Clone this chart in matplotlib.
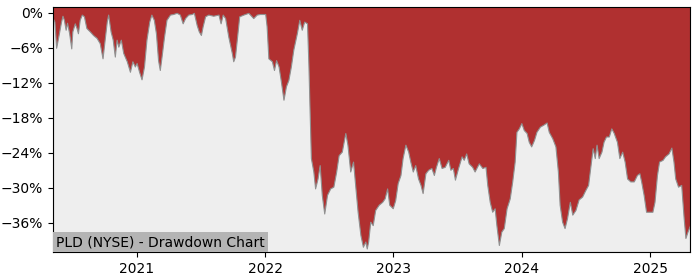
import pandas as pd
import matplotlib
matplotlib.use('Agg')
import matplotlib.pyplot as plt
import matplotlib.dates as mdates
from matplotlib.ticker import FuncFormatter

# drawdown values (%)
dates = [
    '2020-05-07', '2020-05-11', '2020-05-16', '2020-05-22', '2020-05-30', '2020-06-03', '2020-06-07',
    '2020-06-12', '2020-06-16', '2020-06-22', '2020-06-28', '2020-07-01', '2020-07-08', '2020-07-13',
    '2020-07-17', '2020-07-22', '2020-07-28', '2020-08-03', '2020-08-10', '2020-08-20', '2020-08-29',
    '2020-09-08', '2020-09-17', '2020-09-25', '2020-10-02', '2020-10-07', '2020-10-11', '2020-10-18',
    '2020-10-24', '2020-10-30', '2020-11-04', '2020-11-09', '2020-11-16', '2020-11-23', '2020-12-03',
    '2020-12-12', '2020-12-19', '2020-12-26', '2020-12-31',
    '2021-01-07', '2021-01-14', '2021-01-21', '2021-01-28', '2021-02-05', '2021-02-11', '2021-02-18',
    '2021-02-24', '2021-03-02', '2021-03-07', '2021-03-12', '2021-03-19', '2021-03-26', '2021-04-05',
    '2021-04-14', '2021-04-24', '2021-05-03', '2021-05-11', '2021-05-18', '2021-05-27', '2021-06-06',
    '2021-06-12', '2021-06-20', '2021-06-26', '2021-07-02', '2021-07-07', '2021-07-14', '2021-07-23',
    '2021-08-06', '2021-08-21', '2021-08-27', '2021-09-02', '2021-09-09', '2021-09-18', '2021-09-28',
    '2021-10-02', '2021-10-07', '2021-10-14', '2021-10-19', '2021-10-31', '2021-11-14', '2021-11-28',
    '2021-12-08', '2021-12-17', '2022-01-01',
    '2022-01-05', '2022-01-10', '2022-01-20', '2022-01-26', '2022-02-01', '2022-02-08', '2022-02-14',
    '2022-02-22', '2022-03-01', '2022-03-08', '2022-03-15', '2022-03-22', '2022-04-01', '2022-04-08',
    '2022-04-15', '2022-04-22', '2022-04-30', '2022-05-04', '2022-05-07', '2022-05-11', '2022-05-18',
    '2022-05-23', '2022-05-30', '2022-06-05', '2022-06-11', '2022-06-18', '2022-06-26', '2022-07-05',
    '2022-07-14', '2022-07-22', '2022-07-29', '2022-08-07', '2022-08-17', '2022-08-23', '2022-08-31',
    '2022-09-08', '2022-09-14', '2022-09-21', '2022-09-29', '2022-10-06', '2022-10-13', '2022-10-17',
    '2022-10-21', '2022-10-27', '2022-11-03', '2022-11-10', '2022-11-20', '2022-11-30', '2022-12-07',
    '2022-12-14', '2022-12-20', '2022-12-30',
    '2023-01-06', '2023-01-13', '2023-01-21', '2023-01-27', '2023-02-04', '2023-02-12', '2023-02-18',
    '2023-02-25', '2023-03-04', '2023-03-12', '2023-03-19', '2023-03-25', '2023-04-02', '2023-04-10',
    '2023-04-19', '2023-04-26', '2023-05-02', '2023-05-10', '2023-05-18', '2023-05-27', '2023-06-06',
    '2023-06-12', '2023-06-19', '2023-06-25', '2023-07-04', '2023-07-14', '2023-07-20', '2023-07-27',
    '2023-08-03', '2023-08-13', '2023-08-20', '2023-09-01', '2023-09-11', '2023-09-20', '2023-09-25',
    '2023-10-02', '2023-10-09', '2023-10-16', '2023-10-21', '2023-10-28', '2023-11-04', '2023-11-11',
    '2023-11-19', '2023-11-28', '2023-12-05', '2023-12-12', '2023-12-17', '2023-12-24', '2023-12-31',
    '2024-01-07', '2024-01-15', '2024-01-21', '2024-01-28', '2024-02-05', '2024-02-12', '2024-02-22',
    '2024-03-02', '2024-03-12', '2024-03-18', '2024-03-28', '2024-04-06', '2024-04-13', '2024-04-18',
    '2024-04-25', '2024-05-02', '2024-05-09', '2024-05-17', '2024-05-24', '2024-06-02', '2024-06-11',
    '2024-06-21', '2024-06-30', '2024-07-08', '2024-07-15', '2024-07-21', '2024-07-27', '2024-08-01',
    '2024-08-07', '2024-08-15', '2024-08-21', '2024-08-28', '2024-09-05', '2024-09-12', '2024-09-19',
    '2024-09-28', '2024-10-05', '2024-10-13', '2024-10-20', '2024-10-27', '2024-11-05', '2024-11-15',
    '2024-11-24', '2024-12-01', '2024-12-06', '2024-12-13', '2024-12-20', '2024-12-29',
    '2025-01-07', '2025-01-13', '2025-01-20', '2025-01-26', '2025-02-05', '2025-02-12', '2025-02-22',
    '2025-03-02', '2025-03-08', '2025-03-13', '2025-03-21', '2025-03-30', '2025-04-06', '2025-04-11',
    '2025-04-17', '2025-04-24',
]
drawdown = [
    -1.0, -1.5, -6.0, -4.1, -1.5, -0.5, -1.2,
    -2.9, -1.7, -3.5, -6.1, -3.2, -1.8, -2.6,
    -3.5, -1.2, -0.3, -0.6, -2.6, -3.2, -3.8,
    -4.3, -5.2, -7.8, -4.1, -1.5, -0.3, -3.2,
    -4.6, -7.5, -4.6, -5.8, -4.6, -6.9, -8.3,
    -10.1, -8.3, -9.2, -8.6,
    -10.1, -11.4, -9.2, -4.6, -1.5, -0.3, -1.2,
    -3.5, -8.1, -9.8, -7.5, -4.1, -1.2, -0.3,
    -0.2, 0.0, -0.3, -1.8, -0.9, -0.3, -0.2,
    0.0, -2.1, -3.2, -3.8, -2.3, -0.6, -0.3,
    -0.5, -0.3, -1.8, -0.3, -0.9, -4.1, -6.9,
    -8.3, -7.5, -3.5, -0.6, -0.3, 0.0, -0.9,
    -0.3, -0.2, -0.2,
    -2.3, -7.8, -8.3, -9.8, -8.1, -9.2, -11.5,
    -14.9, -12.6, -11.5, -9.2, -6.3, -3.5, -1.2,
    -2.9, -1.5, -1.8, -9.0, -16.0, -24.9, -27.2,
    -30.1, -28.4, -26.1, -31.2, -34.4, -31.2, -30.1,
    -29.8, -27.2, -24.4, -23.8, -20.6, -22.6, -27.2,
    -25.5, -29.5, -34.1, -38.1, -40.1, -39.2, -40.4,
    -39.2, -35.8, -36.4, -33.8, -32.9, -32.4, -31.8,
    -30.1, -32.9, -33.5,
    -32.1, -29.2, -27.8, -24.9, -22.6, -23.8, -25.5,
    -27.2, -26.1, -28.4, -29.5, -30.9, -27.5, -26.9,
    -26.6, -27.8, -26.4, -24.9, -26.6, -26.4, -25.2,
    -26.9, -26.6, -28.6, -26.6, -24.6, -25.2, -24.1,
    -25.8, -26.4, -27.2, -25.8, -26.6, -26.4, -29.5,
    -32.4, -34.1, -33.5, -36.4, -39.8, -37.5, -36.9,
    -33.5, -31.8, -28.9, -25.5, -20.4, -19.8, -18.9,
    -20.1, -20.6, -22.1, -22.9, -21.8, -20.4, -19.5,
    -19.2, -18.8, -20.4, -21.5, -22.9, -27.2, -32.9,
    -35.8, -36.9, -35.2, -32.4, -34.6, -33.8, -32.0,
    -31.5, -30.4, -29.5, -26.1, -23.2, -24.9, -22.6,
    -24.9, -23.8, -22.1, -21.2, -21.2, -19.8, -20.6,
    -22.1, -24.9, -23.8, -25.5, -28.4, -28.9, -28.9,
    -27.8, -27.5, -28.9, -31.2, -34.1, -34.1,
    -34.1, -32.4, -27.8, -25.5, -25.2, -24.6, -24.1,
    -23.1, -25.5, -28.4, -29.8, -29.5, -35.2, -38.6,
    -37.5, -36.4,
]
yticks = [0, -6, -12, -18, -24, -30, -36]
title = 'PLD (NYSE) - Drawdown Chart'

df = pd.DataFrame({'date': pd.to_datetime(dates), 'dd': drawdown})

fig = plt.figure(figsize=(7, 2.8), dpi=100)
ax = fig.add_axes([0.0757, 0.1, 0.91, 0.875])
ax.set_facecolor('#b03030')

bottom = -41
ax.fill_between(df['date'], df['dd'], bottom, facecolor='#eeeeee',
                edgecolor='#909090', linewidth=0.8)
ax.set_ylim(bottom, 1)
ax.set_xlim(df['date'].iloc[0], df['date'].iloc[-1])

ax.set_yticks(yticks)
ax.yaxis.set_major_formatter(FuncFormatter(lambda v, p: f'{v:.0f}%'.replace('-', '\u2212')))
ax.xaxis.set_major_locator(mdates.YearLocator())
ax.xaxis.set_major_formatter(mdates.DateFormatter('%Y'))
ax.tick_params(labelsize=10)

ax.text(0.005, 0.012, title, transform=ax.transAxes, fontsize=10, ha='left', va='bottom',
        bbox=dict(facecolor='#b4b4b4', edgecolor='none', pad=2))

fig.savefig('out.png', dpi=100)
